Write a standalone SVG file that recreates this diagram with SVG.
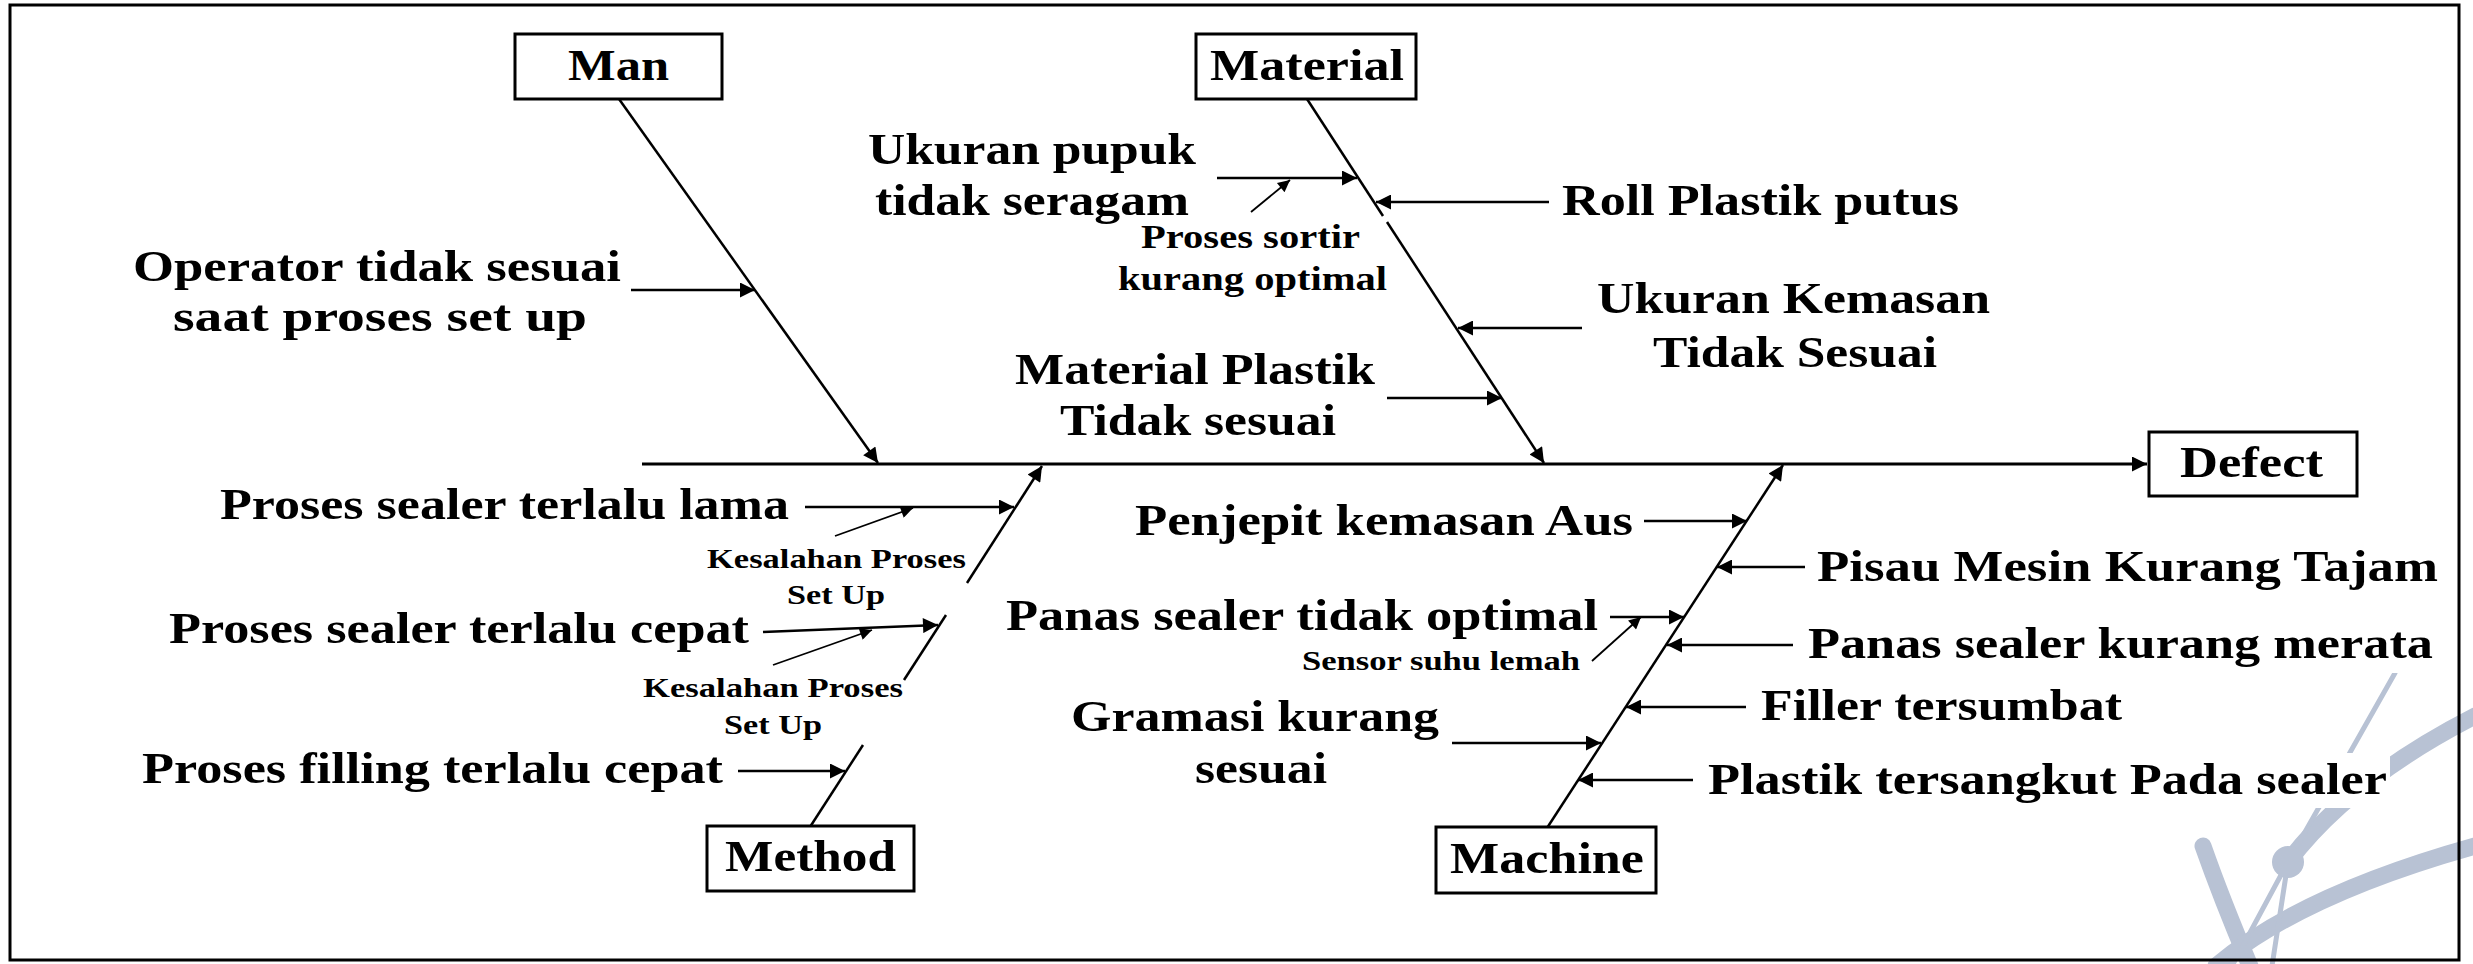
<svg xmlns="http://www.w3.org/2000/svg" width="2473" height="964" viewBox="0 0 2473 964">
  <style>
    .t { font-family: "Liberation Serif", "Times New Roman", serif; font-weight: 700; font-size: 45px; fill: #000; }
    .s { font-size: 34px; }
    .xs { font-size: 28px; }
    .box { fill: #fff; stroke: #000; stroke-width: 3; }
    .ln { fill: none; stroke: #000; stroke-width: 2.5; }
    .spine { stroke-width: 3; }
    .sub { stroke-width: 1.8; }
    .wm { fill: none; stroke: #b8c2d4; stroke-linecap: round; }
  </style>
  <defs>
    <marker id="ah" viewBox="0 0 10 10" refX="10" refY="5" markerUnits="userSpaceOnUse" markerWidth="20" markerHeight="15" orient="auto">
      <path d="M0,0 L10,5 L0,10 z" fill="#000"/>
    </marker>
    <marker id="ahs" viewBox="0 0 10 10" refX="10" refY="5" markerUnits="userSpaceOnUse" markerWidth="16" markerHeight="12" orient="auto">
      <path d="M0,0 L10,5 L0,10 z" fill="#000"/>
    </marker>
  </defs>

  <rect x="0" y="0" width="2473" height="964" fill="#fff"/>

  <!-- faint logo in the lower right corner -->
  <g id="watermark">
    <path class="wm" d="M2203,846 Q2222,900 2250,966" stroke-width="17"/>
    <path class="wm" d="M2216,966 Q2300,895 2475,846" stroke-width="17"/>
    <path class="wm" d="M2288,862 Q2350,780 2475,716" stroke-width="17"/>
    <path class="wm" d="M2395,673 L2288,862 L2232,966" stroke-width="5"/>
    <path class="wm" d="M2288,862 L2272,966" stroke-width="5"/>
    <circle cx="2288" cy="862" r="16" fill="#b8c2d4"/>
    <rect x="1700" y="753" width="690" height="55" fill="#fff"/>
    <rect x="1800" y="620" width="645" height="53" fill="#fff"/>
  </g>

  <!-- frame -->
  <rect x="10" y="5" width="2449" height="955" fill="none" stroke="#000" stroke-width="3"/>

  <g id="connectors">
    <!-- spine -->
    <line class="ln spine" x1="642" y1="464" x2="2147" y2="464" marker-end="url(#ah)"/>
    <!-- category bones -->
    <line class="ln" x1="619" y1="99" x2="878" y2="463" marker-end="url(#ah)"/>
    <line class="ln" x1="1307" y1="99" x2="1383" y2="216"/>
    <line class="ln" x1="1387" y1="222" x2="1544" y2="463" marker-end="url(#ah)"/>
    <line class="ln" x1="810" y1="827" x2="863" y2="745"/>
    <line class="ln" x1="904" y1="680" x2="946" y2="615"/>
    <line class="ln" x1="967" y1="583" x2="1042" y2="466" marker-end="url(#ah)"/>
    <line class="ln" x1="1547" y1="828" x2="1783" y2="465" marker-end="url(#ah)"/>

    <!-- Man causes -->
    <line class="ln" x1="631" y1="290" x2="755" y2="290" marker-end="url(#ah)"/>

    <!-- Material causes -->
    <line class="ln" x1="1217" y1="178" x2="1357" y2="178" marker-end="url(#ah)"/>
    <line class="ln sub" x1="1251" y1="212" x2="1290" y2="180" marker-end="url(#ahs)"/>
    <line class="ln" x1="1549" y1="202" x2="1376" y2="202" marker-end="url(#ah)"/>
    <line class="ln" x1="1582" y1="328" x2="1458" y2="328" marker-end="url(#ah)"/>
    <line class="ln" x1="1387" y1="398" x2="1502" y2="398" marker-end="url(#ah)"/>

    <!-- Method causes -->
    <line class="ln" x1="805" y1="507" x2="1014" y2="507" marker-end="url(#ah)"/>
    <line class="ln sub" x1="835" y1="536" x2="913" y2="508" marker-end="url(#ahs)"/>
    <line class="ln" x1="763" y1="632" x2="938" y2="625" marker-end="url(#ah)"/>
    <line class="ln sub" x1="773" y1="665" x2="872" y2="630" marker-end="url(#ahs)"/>
    <line class="ln" x1="738" y1="771" x2="845" y2="771" marker-end="url(#ah)"/>

    <!-- Machine causes -->
    <line class="ln" x1="1644" y1="521" x2="1747" y2="521" marker-end="url(#ah)"/>
    <line class="ln" x1="1805" y1="567" x2="1717" y2="567" marker-end="url(#ah)"/>
    <line class="ln" x1="1610" y1="617" x2="1684" y2="617" marker-end="url(#ah)"/>
    <line class="ln sub" x1="1592" y1="661" x2="1641" y2="617" marker-end="url(#ahs)"/>
    <line class="ln" x1="1793" y1="645" x2="1667" y2="645" marker-end="url(#ah)"/>
    <line class="ln" x1="1746" y1="707" x2="1626" y2="707" marker-end="url(#ah)"/>
    <line class="ln" x1="1452" y1="743" x2="1601" y2="743" marker-end="url(#ah)"/>
    <line class="ln" x1="1693" y1="780" x2="1578" y2="780" marker-end="url(#ah)"/>
  </g>

  <!-- category boxes -->
  <g id="man">
    <rect class="box" x="515" y="34" width="207" height="65"/>
    <text class="t" x="568" y="80" textLength="101" lengthAdjust="spacingAndGlyphs">Man</text>
  </g>
  <g id="material">
    <rect class="box" x="1196" y="34" width="220" height="65"/>
    <text class="t" x="1210" y="80" textLength="194" lengthAdjust="spacingAndGlyphs">Material</text>
  </g>
  <g id="method">
    <rect class="box" x="707" y="826" width="207" height="65"/>
    <text class="t" x="725" y="871" textLength="171" lengthAdjust="spacingAndGlyphs">Method</text>
  </g>
  <g id="machine">
    <rect class="box" x="1436" y="827" width="220" height="66"/>
    <text class="t" x="1450" y="873" textLength="194" lengthAdjust="spacingAndGlyphs">Machine</text>
  </g>
  <g id="defect">
    <rect class="box" x="2149" y="432" width="208" height="64"/>
    <text class="t" x="2180" y="477" textLength="143" lengthAdjust="spacingAndGlyphs">Defect</text>
  </g>

  <!-- Man -->
  <g id="cause-operator">
    <text class="t" x="133" y="281" textLength="488" lengthAdjust="spacingAndGlyphs">Operator tidak sesuai</text>
    <text class="t" x="173" y="331" textLength="414" lengthAdjust="spacingAndGlyphs">saat proses set up</text>
  </g>

  <!-- Material -->
  <g id="cause-ukuran-pupuk">
    <text class="t" x="868" y="164" textLength="328" lengthAdjust="spacingAndGlyphs">Ukuran pupuk</text>
    <text class="t" x="875" y="215" textLength="314" lengthAdjust="spacingAndGlyphs">tidak seragam</text>
  </g>
  <g id="sub-sortir">
    <text class="t s" x="1141" y="248" textLength="219" lengthAdjust="spacingAndGlyphs">Proses sortir</text>
    <text class="t s" x="1118" y="290" textLength="269" lengthAdjust="spacingAndGlyphs">kurang optimal</text>
  </g>
  <g id="cause-roll">
    <text class="t" x="1562" y="215" textLength="397" lengthAdjust="spacingAndGlyphs">Roll Plastik putus</text>
  </g>
  <g id="cause-ukuran-kemasan">
    <text class="t" x="1597" y="313" textLength="393" lengthAdjust="spacingAndGlyphs">Ukuran Kemasan</text>
    <text class="t" x="1653" y="367" textLength="284" lengthAdjust="spacingAndGlyphs">Tidak Sesuai</text>
  </g>
  <g id="cause-material-plastik">
    <text class="t" x="1015" y="384" textLength="360" lengthAdjust="spacingAndGlyphs">Material Plastik</text>
    <text class="t" x="1060" y="435" textLength="276" lengthAdjust="spacingAndGlyphs">Tidak sesuai</text>
  </g>

  <!-- Method -->
  <g id="cause-sealer-lama">
    <text class="t" x="220" y="519" textLength="569" lengthAdjust="spacingAndGlyphs">Proses sealer terlalu lama</text>
  </g>
  <g id="sub-setup-1">
    <text class="t xs" x="707" y="568" textLength="259" lengthAdjust="spacingAndGlyphs">Kesalahan Proses</text>
    <text class="t xs" x="787" y="604" textLength="98" lengthAdjust="spacingAndGlyphs">Set Up</text>
  </g>
  <g id="cause-sealer-cepat">
    <text class="t" x="169" y="643" textLength="580" lengthAdjust="spacingAndGlyphs">Proses sealer terlalu cepat</text>
  </g>
  <g id="sub-setup-2">
    <text class="t xs" x="643" y="697" textLength="260" lengthAdjust="spacingAndGlyphs">Kesalahan Proses</text>
    <text class="t xs" x="724" y="734" textLength="98" lengthAdjust="spacingAndGlyphs">Set Up</text>
  </g>
  <g id="cause-filling">
    <text class="t" x="142" y="783" textLength="581" lengthAdjust="spacingAndGlyphs">Proses filling terlalu cepat</text>
  </g>

  <!-- Machine -->
  <g id="cause-penjepit">
    <text class="t" x="1135" y="535" textLength="498" lengthAdjust="spacingAndGlyphs">Penjepit kemasan Aus</text>
  </g>
  <g id="cause-pisau">
    <text class="t" x="1817" y="581" textLength="621" lengthAdjust="spacingAndGlyphs">Pisau Mesin Kurang Tajam</text>
  </g>
  <g id="cause-panas-optimal">
    <text class="t" x="1006" y="630" textLength="592" lengthAdjust="spacingAndGlyphs">Panas sealer tidak optimal</text>
  </g>
  <g id="sub-sensor">
    <text class="t xs" x="1302" y="670" textLength="278" lengthAdjust="spacingAndGlyphs">Sensor suhu lemah</text>
  </g>
  <g id="cause-panas-merata">
    <text class="t" x="1808" y="658" textLength="625" lengthAdjust="spacingAndGlyphs">Panas sealer kurang merata</text>
  </g>
  <g id="cause-filler">
    <text class="t" x="1761" y="720" textLength="361" lengthAdjust="spacingAndGlyphs">Filler tersumbat</text>
  </g>
  <g id="cause-gramasi">
    <text class="t" x="1071" y="731" textLength="368" lengthAdjust="spacingAndGlyphs">Gramasi kurang</text>
    <text class="t" x="1195" y="783" textLength="132" lengthAdjust="spacingAndGlyphs">sesuai</text>
  </g>
  <g id="cause-plastik">
    <text class="t" x="1708" y="794" textLength="679" lengthAdjust="spacingAndGlyphs">Plastik tersangkut Pada sealer</text>
  </g>
</svg>
